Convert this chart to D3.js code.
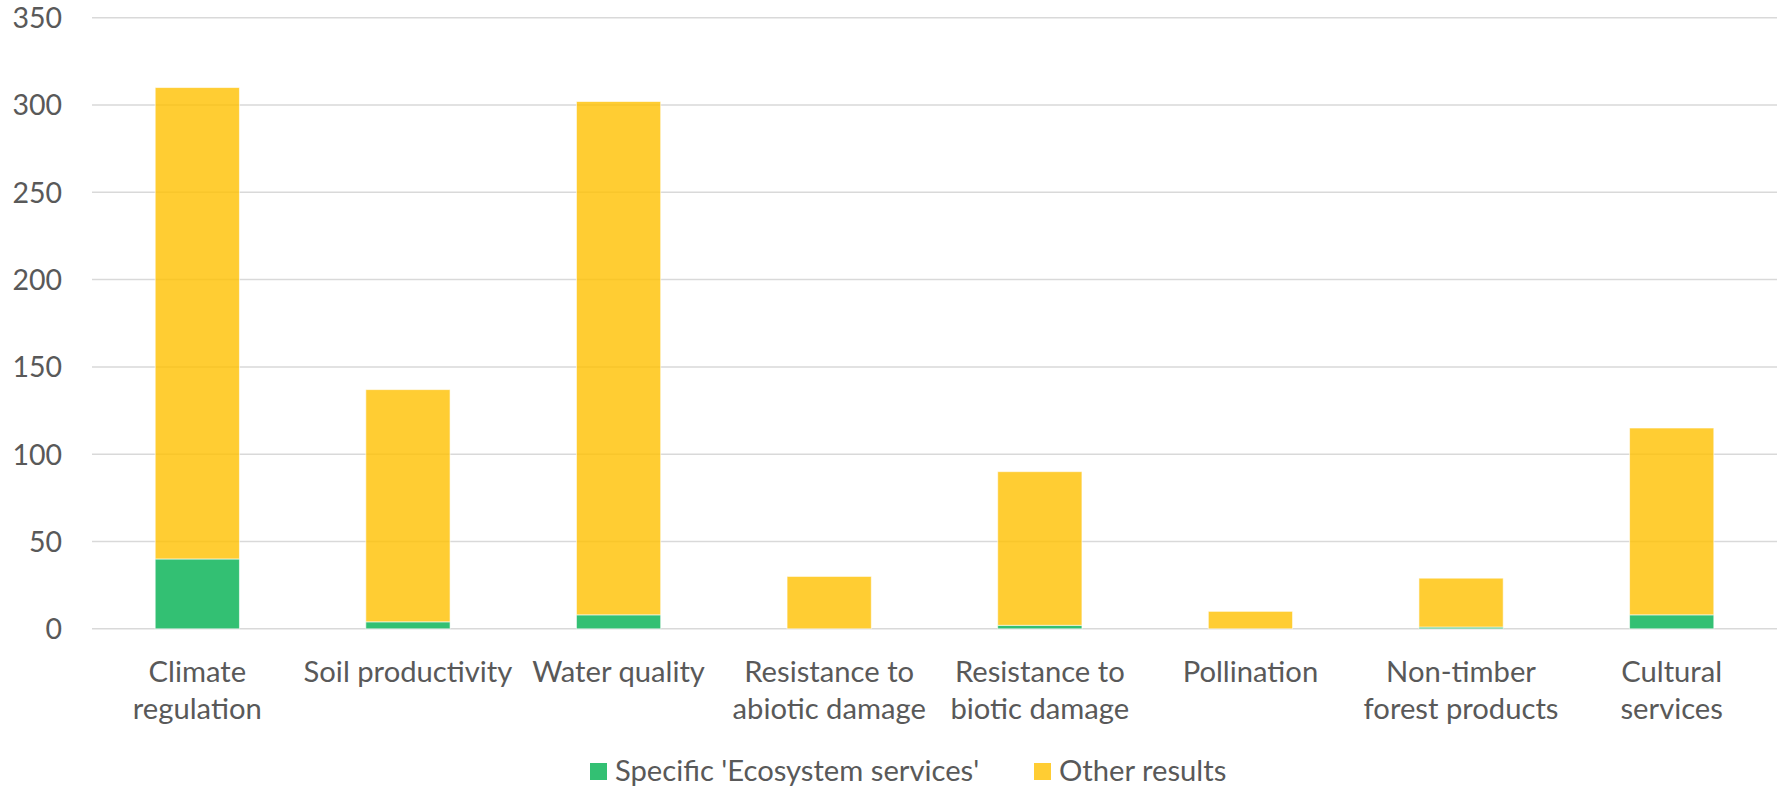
<!DOCTYPE html>
<html>
<head>
<meta charset="utf-8">
<script src="https://cdn.jsdelivr.net/npm/d3@7"></script>
<style>
  html, body { margin: 0; padding: 0; background: #fff; }
  svg { display: block; }
  text { font-family: Lato, "Open Sans", sans-serif; fill: #595959; }
</style>
</head>
<body>
<svg id="chart" width="1785" height="787"></svg>
<script>
// Ecosystem service categories (label lines as they wrap under each bar)
const categories = [
  "Climate regulation", "Soil productivity", "Water quality",
  "Resistance to abiotic damage", "Resistance to biotic damage",
  "Pollination", "Non-timber forest products", "Cultural services"
];
const categoryLines = [
  ["Climate", "regulation"], ["Soil productivity"], ["Water quality"],
  ["Resistance to", "abiotic damage"], ["Resistance to", "biotic damage"],
  ["Pollination"], ["Non-timber", "forest products"], ["Cultural", "services"]
];
const specificValues = [40, 4, 8, 0, 2, 0, 1, 8];
const otherValues    = [270, 133, 294, 30, 88, 10, 28, 107];
const seriesNames = ["Specific 'Ecosystem services'", "Other results"];
const seriesColors = ["#00B050", "#FFC000"];
const yTicks = [0, 50, 100, 150, 200, 250, 300, 350];

const svg = d3.select("#chart");
const plotLeft = 92, plotRight = 1777, plotTop = 17.7, plotBottom = 628.8;
const labelSize = 29.2;

const x = d3.scaleBand().domain(categories).range([plotLeft, plotRight])
  .paddingInner(0.6).paddingOuter(0.3);
const y = d3.scaleLinear().domain([0, 350]).range([plotBottom, plotTop]);

// Horizontal gridlines
svg.append("g").selectAll("line").data(yTicks).join("line")
  .attr("x1", plotLeft).attr("x2", plotRight)
  .attr("y1", d => y(d)).attr("y2", d => y(d))
  .attr("stroke", "#d9d9d9").attr("stroke-width", 1.5);

// Y axis labels
const yAxis = d3.axisLeft(y).tickValues(yTicks).tickSize(0).tickPadding(0);
const gy = svg.append("g").attr("transform", `translate(62,0)`).call(yAxis);
gy.select(".domain").remove();
gy.selectAll("text").attr("font-size", 28.5).attr("font-family", "Lato")
  .attr("fill", "#595959").attr("dy", "0.35em");

// Stacked bars
const rows = categories.map((c, i) => ({ cat: c, specific: specificValues[i], other: otherValues[i] }));
const stack = d3.stack().keys(["specific", "other"]);
const layers = stack(rows);

svg.append("g").selectAll("g").data(layers).join("g")
  .attr("fill", (d, i) => seriesColors[i]).attr("fill-opacity", 0.8)
  .selectAll("rect").data(d => d.filter(p => p[1] - p[0] > 0)).join("rect")
  .attr("x", d => x(d.data.cat))
  .attr("width", x.bandwidth())
  .attr("y", d => y(d[1]))
  .attr("height", d => y(d[0]) - y(d[1]))
  .attr("stroke", "rgba(255,255,255,0.6)").attr("stroke-width", 1);

// Category labels
const gx = svg.append("g");
categories.forEach((c, i) => {
  const t = gx.append("text")
    .attr("x", x(c) + x.bandwidth() / 2)
    .attr("text-anchor", "middle")
    .attr("font-size", labelSize);
  categoryLines[i].forEach((line, j) => {
    t.append("tspan").attr("x", x(c) + x.bandwidth() / 2)
      .attr("y", 682 + j * 37).text(line);
  });
});

// Legend
const legendItems = [
  { name: seriesNames[0], color: seriesColors[0], sx: 590, tx: 615 },
  { name: seriesNames[1], color: seriesColors[1], sx: 1034, tx: 1059 }
];
const lg = svg.append("g");
legendItems.forEach(it => {
  lg.append("rect").attr("x", it.sx).attr("y", 763).attr("width", 17).attr("height", 17)
    .attr("fill", it.color).attr("fill-opacity", 0.8);
  lg.append("text").attr("x", it.tx).attr("y", 781).attr("font-size", labelSize).text(it.name);
});
</script>
</body>
</html>
